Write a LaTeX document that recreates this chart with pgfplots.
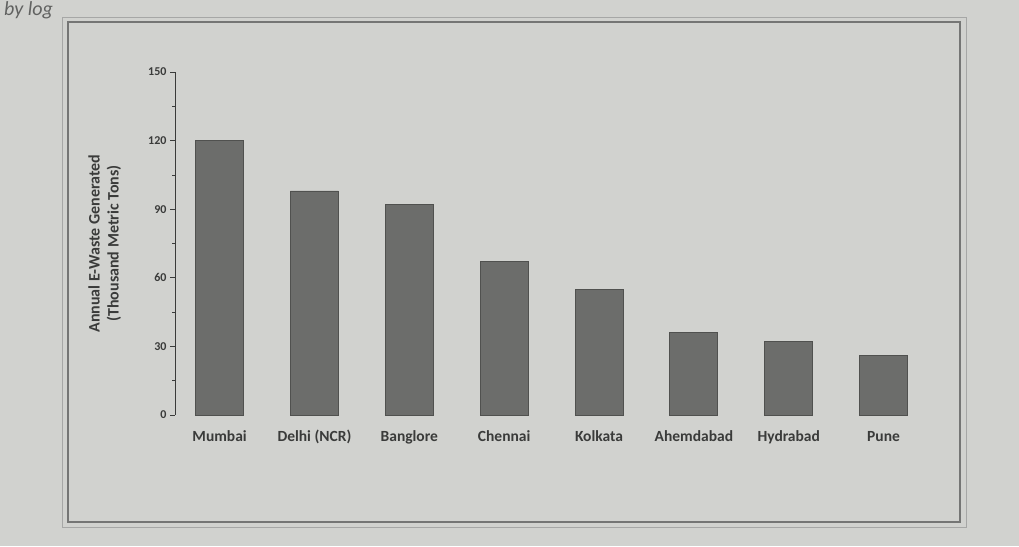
\documentclass[border=0pt]{standalone}
\usepackage{fontspec}
\setmainfont{Carlito}
\usepackage{pgfplots}
\pgfplotsset{compat=1.18}
\definecolor{paper}{HTML}{D1D2CF}
\definecolor{barfill}{HTML}{6C6D6B}
\definecolor{baredge}{HTML}{50514F}
\definecolor{ink}{HTML}{3A3B3A}
\begin{document}
\begin{tikzpicture}[x=1pt,y=1pt]
% photo background and the printed frame
\fill[paper] (0,0) rectangle (1019,546);
\node[anchor=base west, inner sep=0pt, text=ink!80, font=\fontsize{20}{22}\selectfont\itshape] at (4,530) {by log};
\draw[ink!70,line width=1.2pt] (68,24) rectangle (960,524);
\draw[ink!45,line width=0.8pt] (62,19) rectangle (966,529);
\begin{axis}[
  at={(175pt,131pt)}, anchor=south west,
  scale only axis, width=756pt, height=343pt,
  ybar, bar width=48pt, bar shift=0pt,
  xmin=-0.47, xmax=7.5, ymin=0, ymax=150,
  axis y line*=left, axis x line*=bottom,
  x axis line style={draw=none},
  y axis line style={-, ink, line width=0.8pt},
  ytick={0,30,...,150}, minor y tick num=1,
  tick align=outside, major tick length=5pt, minor tick length=3pt,
  tick style={ink, line width=0.6pt},
  xtick=data, xtick style={draw=none},
  xticklabels={Mumbai,Delhi (NCR),Banglore,Chennai,Kolkata,Ahemdabad,Hydrabad,Pune},
  xticklabel style={font=\fontsize{15.5}{17}\selectfont\bfseries, text=ink, yshift=-10pt,
    text height=0.75em, text depth=0.25em},
  yticklabel style={font=\fontsize{12}{14}\selectfont\bfseries, text=ink},
  /pgf/number format/assume math mode=true,
  ylabel={Annual E-Waste Generated\\(Thousand Metric Tons)},
  ylabel style={align=center, font=\fontsize{16}{19}\selectfont\bfseries, text=ink,
    at={(axis description cs:-0.093,0.5)}, anchor=center},
  clip=false,
]
\addplot[fill=barfill, draw=baredge, line width=0.8pt] coordinates {
  (0,120) (1,98) (2,92) (3,67) (4,55) (5,36) (6,32) (7,26)};
\end{axis}
\end{tikzpicture}
\end{document}
